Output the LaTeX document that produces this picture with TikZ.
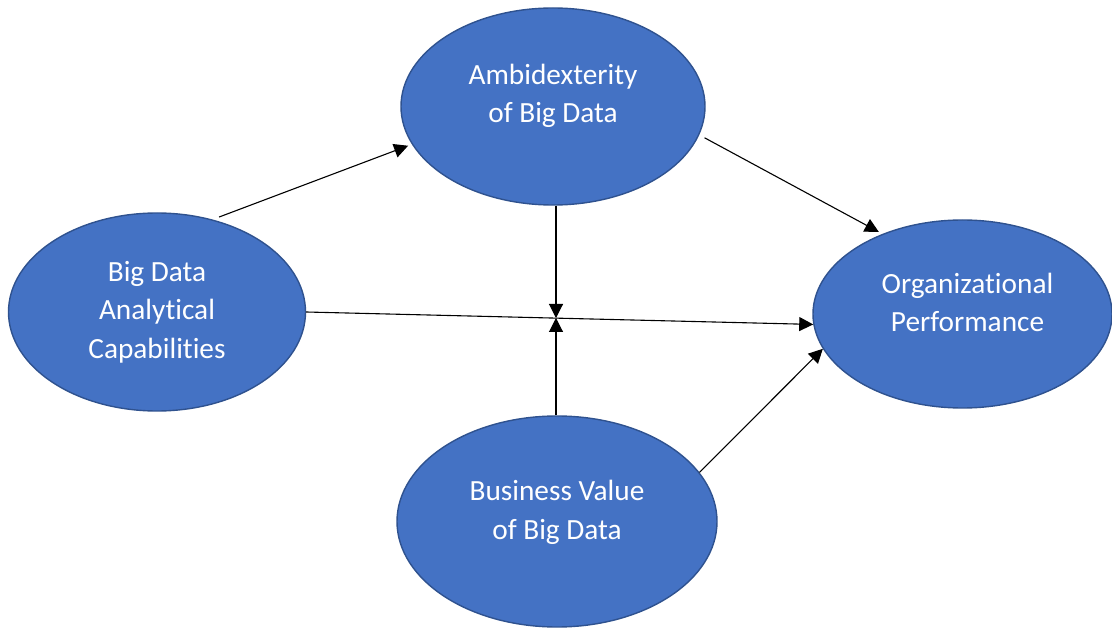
\documentclass[tikz,border=0pt]{standalone}
\usepackage{fontspec}
\setmainfont{Carlito}[Ligatures=NoCommon]
\usetikzlibrary{shapes.geometric,arrows.meta}
\definecolor{officeblue}{HTML}{4472C4}
\definecolor{officeedge}{HTML}{2F528F}
\tikzset{
	blob/.style={ellipse, draw=officeedge, line width=1.4pt, fill=officeblue, inner sep=0pt},
	caption/.style={text=white, align=center, font=\fontsize{29.3}{38.5}\selectfont},
	link/.style={line width=1.1pt, -{Triangle[length=14pt,width=14pt]}},
}
\begin{document}
\begin{tikzpicture}[x=1pt, y=-1pt]
	\useasboundingbox (0,0) rectangle (1112,628);

	% ellipses
	\node [blob, minimum width=297, minimum height=198] (bdac) at (157,312) {};
	\node [blob, minimum width=304, minimum height=197] (ambi) at (553,106.5) {};
	\node [blob, minimum width=299, minimum height=188] (orgp) at (962.5,314) {};
	\node [blob, minimum width=320, minimum height=211] (bval) at (557,521.5) {};

	% texts
	\node [caption] (bdac-txt) at (bdac.center) {Big Data\\Analytical\\Capabilities};
	\node [caption] (ambi-txt) at ([yshift=10.5pt]ambi.center) {Ambidexterity\\of Big Data};
	\node [caption] (orgp-txt) at ([xshift=5pt, yshift=11.5pt]orgp.center) {Organizational\\Performance};
	\node [caption] (bval-txt) at ([yshift=9pt]bval.center) {Business Value\\of Big Data};

	% arrows
	\coordinate (meet) at (556,318);
	\draw [link, shorten <=7pt, shorten >=4pt] (bdac.59) -- (ambi.195);
	\draw [link, shorten <=6pt, shorten >=4pt] (ambi.-11) -- (orgp.135);
	\draw [link] (bdac.east) -- (orgp.184);
	\draw [link] (meet |- ambi.south) -- (meet);
	\draw [link] (meet |- bval.north) -- (meet);
	\draw [link] (bval.19) -- (orgp.194);
\end{tikzpicture}
\end{document}
